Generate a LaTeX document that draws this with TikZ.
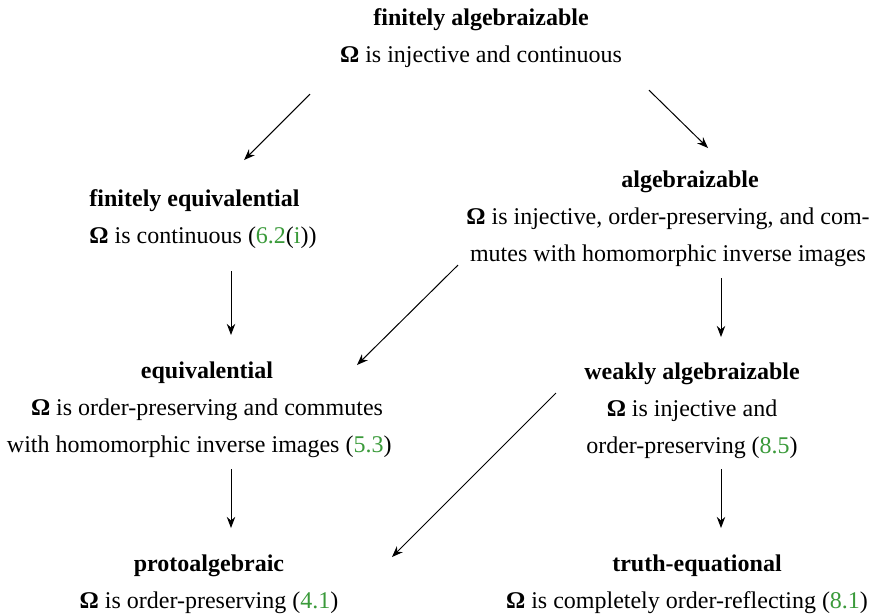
\documentclass[tikz,border=0pt]{standalone}
\usepackage{fontspec}
\setmainfont{Liberation Serif}
\usetikzlibrary{arrows.meta}
\definecolor{refgreen}{HTML}{3A9A3A}
\newcommand{\Om}{\textbf{Ω}}
\newcommand{\refn}[1]{\textcolor{refgreen}{#1}}
\tikzset{concept/.style={anchor=north,align=center,inner sep=0pt,font=\fontsize{10.8}{16.5}\selectfont},
imp/.style={draw,-{Stealth[length=5pt,width=3.8pt]},line width=0.45pt}}

\begin{document}
\begin{tikzpicture}[x=0.45pt,y=-0.45pt]
\useasboundingbox (0,0) rectangle (873,614);
\node[concept] (fa) at (481,8.6) {\textbf{finitely algebraizable}\\\Om{} is injective and continuous};
\node[concept,anchor=north west,align=left] (fe) at (89,189.6) {\textbf{finitely equivalential}\\\Om{} is continuous (\refn{6.2}(\refn{i}))};
\node[concept] (alg) at (668,170.6) {\hspace*{19.8pt}\textbf{algebraizable}\\\Om{} is injective, order-preserving, and com-\\mutes with homomorphic inverse images};
\node[concept] (eq) at (207,361.6) {\textbf{equivalential}\\\Om{} is order-preserving and commutes\\with homomorphic inverse images (\refn{5.3})\hspace*{7pt}};
\node[concept] (wa) at (692,362.6) {\textbf{weakly algebraizable}\\\Om{} is injective and\\order-preserving (\refn{8.5})};
\node[concept] (pa) at (209,554.6) {\textbf{protoalgebraic}\\\Om{} is order-preserving (\refn{4.1})};
\node[concept] (ta) at (687,554.6) {\hspace*{9pt}\textbf{truth-equational}\\\Om{} is completely order-reflecting (\refn{8.1})};
\draw[imp] ([shift={(-171,26)}]fa.south) -- ([shift={(-73,-29.6)}]fe.north east);
\draw[imp] ([shift={(168,22)}]fa.south) -- ([shift={(40,-22.6)}]alg.north);
\draw[imp] ([shift={(142,22)}]fe.south west) -- ([shift={(24,-26.6)}]eq.north);
\draw[imp] ([shift={(-210,-1.6)}]alg.south) -- ([shift={(150,3.4)}]eq.north);
\draw[imp] ([shift={(53,11.4)}]alg.south) -- ([shift={(29,-25.6)}]wa.north);
\draw[imp] ([shift={(24,11.4)}]eq.south) -- ([shift={(22,-26.6)}]pa.north);
\draw[imp] ([shift={(-136,30.4)}]wa.north) -- ([shift={(183,2.4)}]pa.north);
\draw[imp] ([shift={(29,10.4)}]wa.south) -- ([shift={(34,-26.6)}]ta.north);
\end{tikzpicture}
\end{document}
